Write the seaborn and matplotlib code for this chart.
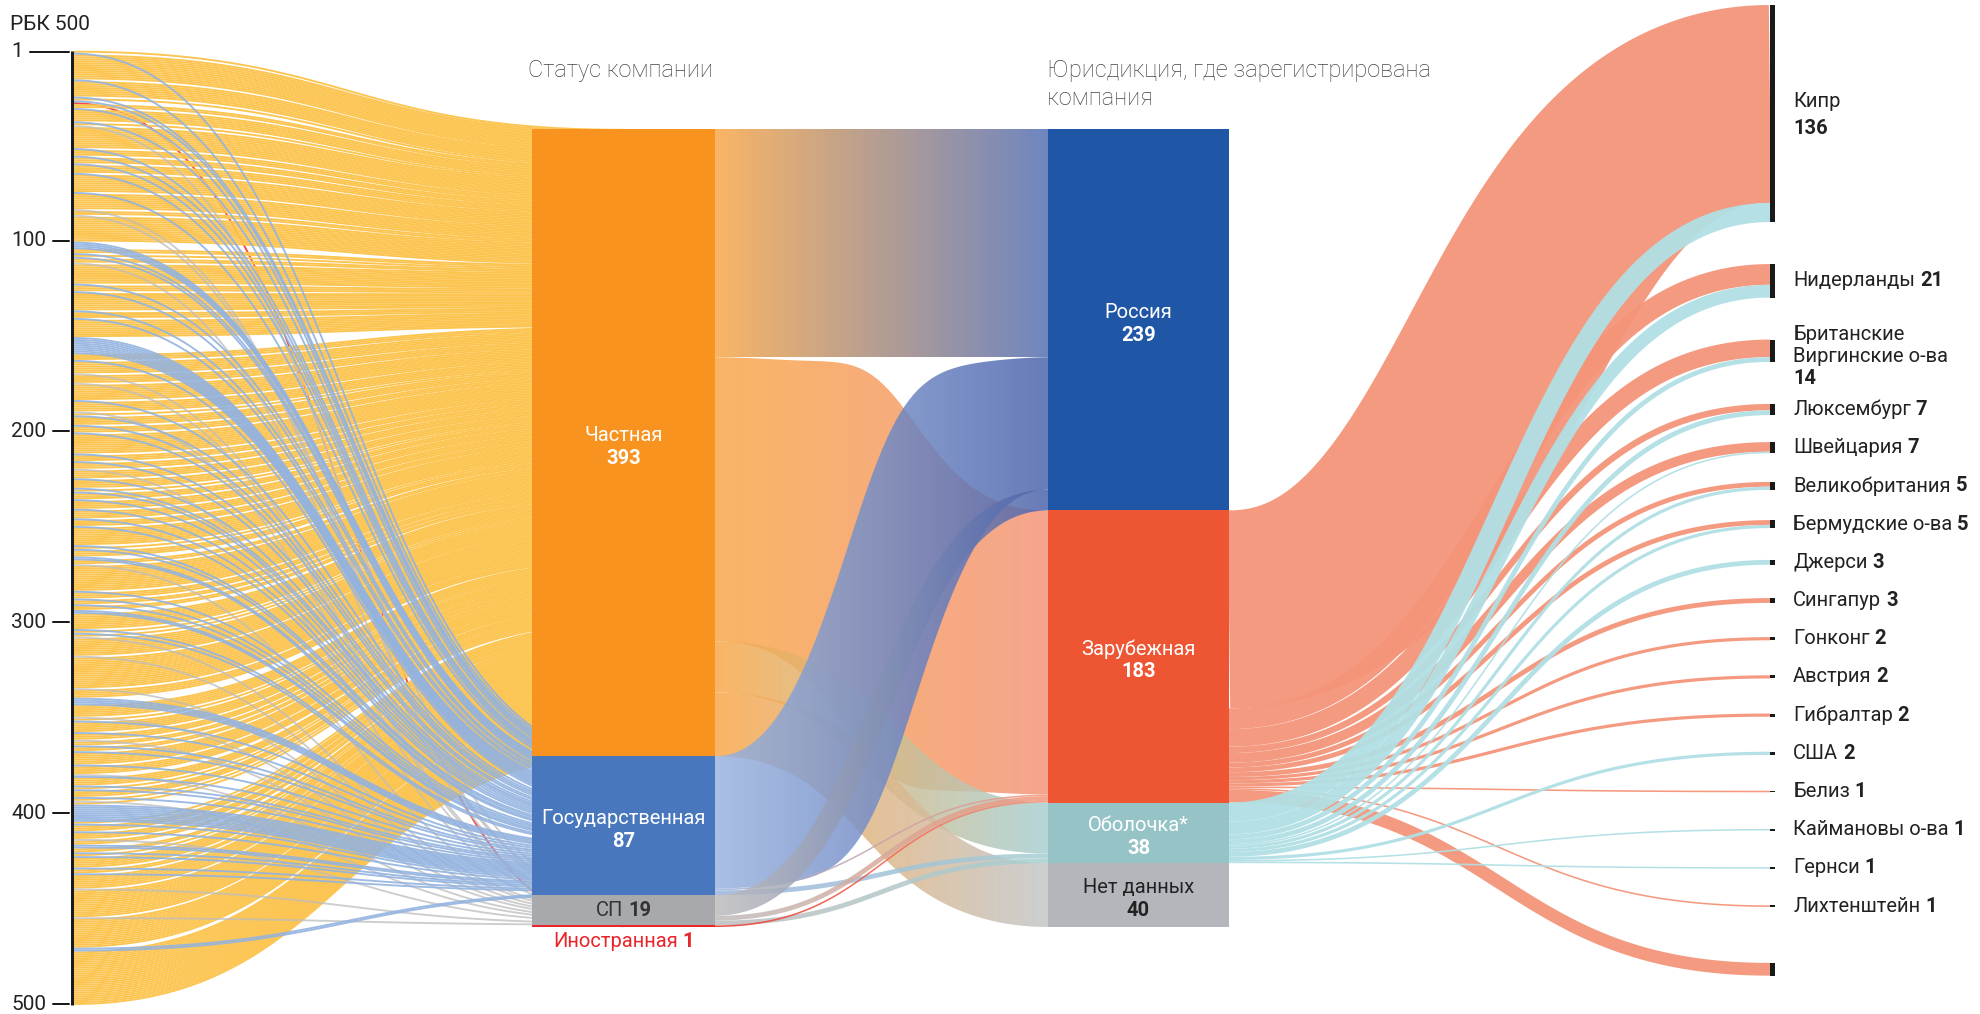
import numpy as np
import matplotlib
matplotlib.use("Agg")
import matplotlib.pyplot as plt
import seaborn as sns
from matplotlib.collections import LineCollection
from matplotlib.patches import Polygon, Rectangle
from matplotlib.colors import to_rgba

# ---------------- DATA ----------------
rank_ticks = [1, 100, 200, 300, 400, 500]
n_companies = 500

status_names = ["Частная", "Государственная", "СП", "Иностранная"]
status_counts = [393, 87, 19, 1]

# ranks (position in РБК 500) of non-private companies
state_ranks = [2, 16, 25, 27, 31, 38, 52, 56, 60, 65, 75, 101, 102, 103, 104, 107, 109, 123,
               127, 137, 141, 151, 152, 153, 154, 155, 156, 157, 158, 159, 163, 184, 192, 197,
               201, 212, 216, 225, 230, 232, 236, 241, 246, 250,
               260, 262, 266, 267, 284, 288, 291, 294, 295, 304, 306, 340, 341, 342, 343, 352,
               358, 365, 368, 375,
               381, 386, 388, 392, 396, 397, 398, 399, 400, 401, 402, 403, 404, 406, 410, 417,
               418, 421, 423, 429, 432, 471, 472]
jv_ranks = [40, 84, 87, 112, 170, 175, 190, 220, 270, 308, 318, 335, 350, 362, 380, 394, 414,
            440, 455]
foreign_ranks = [28]

jur_names = ["Россия", "Зарубежная", "Оболочка*", "Нет данных"]
jur_counts = [239, 183, 38, 40]
# flows status -> jurisdiction (order of jur_names)
flow_private = [143, 178, 32, 40]
flow_state = [83, 1, 3, 0]
flow_jv = [13, 3, 3, 0]
flow_foreign = [0, 1, 0, 0]

country_names = ["Кипр", "Нидерланды", "Британские\nВиргинские о-ва", "Люксембург", "Швейцария",
                 "Великобритания", "Бермудские о-ва", "Джерси", "Сингапур", "Гонконг", "Австрия",
                 "Гибралтар", "США", "Белиз", "Каймановы о-ва", "Гернси", "Лихтенштейн", ""]
country_counts = [136, 21, 14, 7, 7, 5, 5, 3, 3, 2, 2, 2, 2, 1, 1, 1, 1, 8]
country_from_foreign = [124, 13, 11, 4, 6, 3, 3, 0, 3, 2, 2, 2, 0, 1, 0, 0, 1, 8]
country_from_shell = [12, 8, 3, 3, 1, 2, 2, 3, 0, 0, 0, 0, 2, 0, 1, 1, 0, 0]

# ---------------- STYLE / LAYOUT ----------------
sns.set_theme(style="white")
plt.rcParams["font.family"] = ["Roboto", "DejaVu Sans"]

W, H, DPI = 1980, 1014, 100
PT = 72.0 / DPI  # points per pixel

AXIS_X = 71.5
LINK_X0 = 73.5
RANK_Y1, RANK_YN = 51.7, 1004.0
RANK_STEP = (RANK_YN - RANK_Y1) / (n_companies - 1)
UNIT = 1.596
TOP = 129.0
STATUS_X = (532.0, 715.0)
JUR_X = (1048.0, 1229.0)
COUNTRY_X = 1770.0
BAR_W = 5.0
COUNTRY_TOP = 5.0
ROW = 38.2
BIG_GAP = 42.0
OTHER_GAP = 56.0

status_colors = ["#F7931E", "#4877BD", "#A7A9AC", "#E8262B"]
status_link_colors = ["#FCC552", "#93B3E0", "#BDBDBD", "#EE3B34"]
status_grad_colors = ["#F9A84A", "#9AB4E0", "#BDBDBD", "#EE3B34"]
jur_colors = ["#1F56A5", "#EE5533", "#95C3C6", "#B3B7BB"]
jur_grad_colors = ["#5470B5", "#F4957A", "#A8D0D2", "#C3C6C9"]
state_to_russia_end = "#4C64AC"
salmon = "#F4957A"
cyan = "#B1E0E5"
text_dark = "#222222"

fig = plt.figure(figsize=(W / DPI, H / DPI), dpi=DPI)
ax = fig.add_axes([0, 0, 1, 1])
ax.set_xlim(0, W)
ax.set_ylim(H, 0)
ax.axis("off")
sns.despine(ax=ax, left=True, bottom=True)


def centerline(x0, y0, x1, y1, n=140):
    t = np.linspace(0, 1, n)
    xm = (x0 + x1) / 2
    x = (1 - t) ** 3 * x0 + 3 * (1 - t) ** 2 * t * xm + 3 * (1 - t) * t ** 2 * xm + t ** 3 * x1
    y = (1 - t) ** 3 * y0 + 3 * (1 - t) ** 2 * t * y0 + 3 * (1 - t) * t ** 2 * y1 + t ** 3 * y1
    dx = 3 * (1 - t) ** 2 * (xm - x0) + 3 * t ** 2 * (x1 - xm)
    dy = 6 * (1 - t) * t * (y1 - y0)
    return x, y, dx, dy


def rank_y(r):
    return RANK_Y1 + (r - 1) * RANK_STEP


# ---------------- node positions ----------------
status_top = TOP + np.concatenate([[0], np.cumsum(status_counts)[:-1]]) * UNIT
jur_top = TOP + np.concatenate([[0], np.cumsum(jur_counts)[:-1]]) * UNIT
scx = (STATUS_X[0] + STATUS_X[1]) / 2
jcx = (JUR_X[0] + JUR_X[1]) / 2

# ---------------- left: company links ----------------
non_private = set(state_ranks) | set(jv_ranks) | set(foreign_ranks)
private_ranks = [r for r in range(1, n_companies + 1) if r not in non_private]
groups = [private_ranks, sorted(state_ranks), sorted(jv_ranks), sorted(foreign_ranks)]
lw_company = 1.9 * PT
# draw order: foreign (under), private, jv, state
for order, si in enumerate([3, 0, 2, 1]):
    ranks = groups[si]
    segs = []
    for k, r in enumerate(ranks):
        y0 = rank_y(r)
        y1 = status_top[si] + (k + 0.5) * UNIT
        x, y, _, _ = centerline(LINK_X0, y0, scx, y1, 90)
        segs.append(np.column_stack([x, y]))
    alpha = {0: 1.0, 1: 0.9, 2: 0.75, 3: 0.9}[si]
    lc = LineCollection(segs, colors=status_link_colors[si], linewidths=lw_company,
                        alpha=alpha, capstyle="butt", zorder=1 + order)
    ax.add_collection(lc)

# ---------------- middle: gradient bands ----------------
flows = [flow_private, flow_state, flow_jv, flow_foreign]
src_off = list(status_top)
tgt_off = list(jur_top)
band_alpha = [0.85, 0.85, 0.85, 0.9]
z = 6
for si, fl in enumerate(flows):
    for ji, v in enumerate(fl):
        if v == 0:
            continue
        w = v * UNIT
        y0 = src_off[si] + w / 2
        src_off[si] += w
        y1 = tgt_off[ji] + w / 2
        tgt_off[ji] += w
        x, y, dx, dy = centerline(STATUS_X[1], y0, JUR_X[0], y1, 220)
        hv = w / 2 * np.sqrt(1 + (dy / dx) ** 2)
        top = np.column_stack([x, y - hv])
        bot = np.column_stack([x, y + hv])[::-1]
        verts = np.vstack([top, bot])
        patch = Polygon(verts, closed=True, facecolor="none", edgecolor="none", zorder=z)
        ax.add_patch(patch)
        g = np.linspace(0, 1, 256)[:, None]
        c0 = np.array(to_rgba(status_grad_colors[si]))
        end_col = state_to_russia_end if (si in (1, 2) and ji == 0) else jur_grad_colors[ji]
        c1 = np.array(to_rgba(end_col))
        img = (1 - g) * c0 + g * c1
        img[:, 3] = band_alpha[si]
        im = ax.imshow(img[None, :, :], extent=(STATUS_X[1], JUR_X[0], verts[:, 1].max(),
                                                 verts[:, 1].min()),
                       aspect="auto", interpolation="bilinear", zorder=z)
        im.set_clip_path(patch)
        z += 0.01

# ---------------- right: country layout ----------------
ch = np.array(country_counts) * UNIT
centers = []
for i, hh in enumerate(ch):
    if i == 0:
        centers.append(COUNTRY_TOP + hh / 2)
        continue
    prev = centers[-1]
    if country_names[i] == "":
        centers.append(prev + (ch[i - 1] + hh) / 2 + OTHER_GAP)
    elif country_counts[i - 1] >= 10 or country_counts[i] >= 10:
        centers.append(prev + (ch[i - 1] + hh) / 2 + BIG_GAP)
    else:
        centers.append(prev + ROW)
centers = np.array(centers)
ctop = centers - ch / 2

# right links
for src_idx, vals, col, zz in [(1, country_from_foreign, salmon, 4.0),
                               (2, country_from_shell, cyan, 4.5)]:
    off = jur_top[src_idx]
    segs, lws = [], []
    for i, v in enumerate(vals):
        if v == 0:
            continue
        w = v * UNIT
        y0 = off + w / 2
        off += w
        base = ctop[i] + (country_from_foreign[i] * UNIT if src_idx == 2 else 0)
        y1 = base + w / 2
        x, y, _, _ = centerline(JUR_X[1], y0, COUNTRY_X, y1, 160)
        segs.append(np.column_stack([x, y]))
        lws.append(w * PT)
    lc = LineCollection(segs, colors=col, linewidths=lws, alpha=0.95, capstyle="butt",
                        joinstyle="round", zorder=zz)
    ax.add_collection(lc)

# country bars
for i in range(len(country_counts)):
    ax.add_patch(Rectangle((COUNTRY_X, ctop[i]), BAR_W, ch[i], facecolor="#1a1a1a",
                           edgecolor="none", zorder=10))

# ---------------- nodes ----------------
for i, c in enumerate(status_counts):
    ax.add_patch(Rectangle((STATUS_X[0], status_top[i]), STATUS_X[1] - STATUS_X[0], c * UNIT,
                           facecolor=status_colors[i], edgecolor="none", zorder=10))
for i, c in enumerate(jur_counts):
    ax.add_patch(Rectangle((JUR_X[0], jur_top[i]), JUR_X[1] - JUR_X[0], c * UNIT,
                           facecolor=jur_colors[i], edgecolor="none", zorder=10))

# ---------------- axis ----------------
ax.plot([AXIS_X, AXIS_X], [rank_y(1) - 1, rank_y(n_companies) + 1], color="#1a1a1a",
        lw=3 * PT, solid_capstyle="butt", zorder=11)
for r in rank_ticks:
    yy = rank_y(r)
    ax.text(11, yy, str(r), fontsize=15, color=text_dark, ha="left", va="center", zorder=20)
    xs = 11 + len(str(r)) * 11.5 + 7
    ax.plot([xs, AXIS_X - 3], [yy, yy], color="#1a1a1a", lw=2 * PT, zorder=11)
ax.text(10, 24, "РБК 500", fontsize=15, color=text_dark, ha="left", va="center", zorder=20)

# headers
ax.text(528, 70, "Статус компании", fontsize=17, color="#444444", fontweight="light",
        ha="left", va="center", zorder=20)
ax.text(1047, 84.5, "Юрисдикция, где зарегистрирована\nкомпания", fontsize=17,
        color="#444444", fontweight="light", ha="left", va="center", linespacing=1.25,
        zorder=20)

renderer = fig.canvas.get_renderer()


def rich(x, y, parts, ha="left", fs=14.5):
    texts = []
    widths = []
    for s, wgt, col in parts:
        t = ax.text(0, y, s, fontsize=fs, fontweight=wgt, color=col, ha="left", va="center",
                    zorder=20)
        widths.append(t.get_window_extent(renderer).width)
        texts.append(t)
    gap = 5.0
    total = sum(widths) + gap * (len(parts) - 1)
    cx = x if ha == "left" else x - total / 2
    for t, wd in zip(texts, widths):
        t.set_x(cx)
        cx += wd + gap


# node labels
for i in range(2):
    cy = status_top[i] + status_counts[i] * UNIT / 2 + 4
    ax.text(scx, cy - 11.5, status_names[i], fontsize=14.5, color="white", ha="center",
            va="center", zorder=20)
    ax.text(scx, cy + 11.5, str(status_counts[i]), fontsize=14.5, color="white",
            fontweight="bold", ha="center", va="center", zorder=20)
rich(scx, status_top[2] + status_counts[2] * UNIT / 2,
     [(status_names[2], "normal", "#333333"), (str(status_counts[2]), "bold", "#333333")],
     ha="center")
rich(scx, status_top[3] + 16,
     [(status_names[3], "normal", "#E8262B"), (str(status_counts[3]), "bold", "#E8262B")],
     ha="center")
for i in range(4):
    cy = jur_top[i] + jur_counts[i] * UNIT / 2 + 4
    col = "white" if i < 3 else text_dark
    ax.text(jcx, cy - 11.5, jur_names[i], fontsize=14.5, color=col, ha="center",
            va="center", zorder=20)
    ax.text(jcx, cy + 11.5, str(jur_counts[i]), fontsize=14.5, color=col, fontweight="bold",
            ha="center", va="center", zorder=20)

# country labels
LX = 1793
for i, name in enumerate(country_names):
    if name == "":
        continue
    cy = centers[i]
    if i == 0:
        ax.text(LX, cy - 12, name, fontsize=14.5, color=text_dark, ha="left", va="center",
                zorder=20)
        ax.text(LX, cy + 15, str(country_counts[i]), fontsize=14.5, color=text_dark,
                fontweight="bold", ha="left", va="center", zorder=20)
    elif "\n" in name:
        lines = name.split("\n")
        base = cy + 6 - 22
        for k, ln in enumerate(lines):
            ax.text(LX, base + 22 * k, ln, fontsize=14.5, color=text_dark, ha="left",
                    va="center", zorder=20)
        ax.text(LX, base + 22 * len(lines), str(country_counts[i]), fontsize=14.5,
                color=text_dark, fontweight="bold", ha="left", va="center", zorder=20)
    else:
        rich(LX, cy, [(name, "normal", text_dark), (str(country_counts[i]), "bold", text_dark)])

ax.set_xlim(0, W)
ax.set_ylim(H, 0)
fig.savefig("out.png", dpi=DPI, facecolor="white")
